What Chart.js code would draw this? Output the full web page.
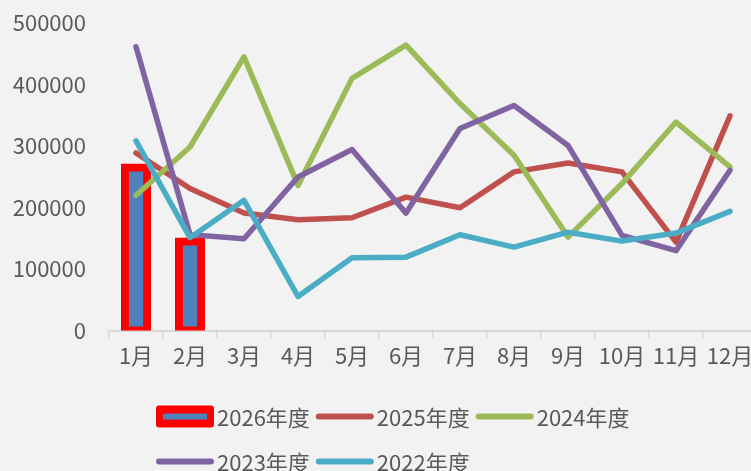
<!DOCTYPE html>
<html>
<head>
<meta charset="utf-8">
<script src="https://cdn.jsdelivr.net/npm/chart.js@4/dist/chart.umd.min.js"></script>
<style>
  html, body { margin: 0; padding: 0; background: #f2f2f2; overflow: hidden; }
  #wrap { width: 760px; height: 471px; }
</style>
</head>
<body>
<div id="wrap"><canvas id="chart" width="760" height="471"></canvas></div>
<script>
const months = ["1月", "2月", "3月", "4月", "5月", "6月", "7月", "8月", "9月", "10月", "11月", "12月"];
const sales2026 = [265000, 145000];
const sales2025 = [288800, 231000, 191000, 180300, 183500, 217000, 199800, 258000, 272500, 258000, 143800, 349000];
const sales2024 = [220000, 298500, 445000, 236000, 410000, 464000, 369000, 285000, 152000, 239000, 339000, 266000];
const sales2023 = [461400, 156000, 149300, 249700, 294300, 191000, 328500, 366000, 301000, 154700, 130000, 260600];
const sales2022 = [308300, 151000, 211700, 55400, 118400, 119400, 155800, 135700, 160000, 145500, 158500, 193800];
const yTicks = [0, 100000, 200000, 300000, 400000, 500000];

const FONT = '"Noto Sans CJK SC", "Liberation Sans", sans-serif';
const TEXT = "#595959";

function lineSet(label, data, color, order) {
  return {
    type: "line",
    label,
    data,
    borderColor: color,
    backgroundColor: color,
    borderWidth: 5.5,
    borderCapStyle: "round",
    borderJoinStyle: "round",
    pointRadius: 0,
    fill: false,
    order
  };
}

// legend laid out in two left-aligned rows under the axis
const legendRows = [[0, 1, 2], [3, 4]];
const rowLegend = {
  id: "rowLegend",
  afterDraw(chart) {
    const ctx = chart.ctx;
    const ds = chart.data.datasets;
    ctx.save();
    ctx.font = "22px " + FONT;
    ctx.textBaseline = "middle";
    legendRows.forEach((row, r) => {
      let x = 156;
      const y = chart.chartArea.bottom + 86 + r * 45;
      row.forEach(i => {
        const d = ds[i];
        if (d.type === "bar") {
          ctx.fillStyle = d.borderColor;
          ctx.beginPath();
          ctx.roundRect(x, y - 11, 58, 22, 3);
          ctx.fill();
          ctx.fillStyle = d.backgroundColor;
          ctx.fillRect(x + 7, y - 3, 44, 6);
        } else {
          ctx.strokeStyle = d.borderColor;
          ctx.lineWidth = 6;
          ctx.lineCap = "round";
          ctx.beginPath();
          ctx.moveTo(x + 3, y);
          ctx.lineTo(x + 55, y);
          ctx.stroke();
        }
        x += 61;
        ctx.fillStyle = TEXT;
        ctx.fillText(d.label, x, y + 1);
        x += ctx.measureText(d.label).width + 6;
      });
    });
    ctx.restore();
  }
};

new Chart(document.getElementById("chart"), {
  data: {
    labels: months,
    datasets: [
      {
        type: "bar",
        label: "2026年度",
        data: sales2026,
        backgroundColor: "#4f81bd",
        borderColor: "#ff0000",
        borderWidth: 8,
        borderSkipped: false,
        inflateAmount: 4,
        barPercentage: 0.41,
        categoryPercentage: 1,
        order: 5
      },
      lineSet("2025年度", sales2025, "#c0504d", 4),
      lineSet("2024年度", sales2024, "#9bbb59", 3),
      lineSet("2023年度", sales2023, "#8064a2", 2),
      lineSet("2022年度", sales2022, "#4bacc6", 1)
    ]
  },
  options: {
    responsive: false,
    animation: false,
    devicePixelRatio: 1,
    layout: { padding: { top: 23, right: 3, bottom: 98, left: 0 } },
    plugins: { legend: { display: false }, tooltip: { enabled: false } },
    scales: {
      x: {
        offset: true,
        grid: { display: true, drawOnChartArea: false, drawTicks: true, tickLength: 8, color: "#d9d9d9", lineWidth: 1.5, offset: true },
        border: { display: true, color: "#d9d9d9", width: 2 },
        ticks: { color: TEXT, font: { family: FONT, size: 22 }, padding: 4, maxRotation: 0, autoSkip: false }
      },
      y: {
        min: 0,
        max: 500000,
        afterBuildTicks: s => { s.ticks = yTicks.map(v => ({ value: v })); },
        afterFit: s => { s.width = 109; s.paddingTop = 0; s.paddingBottom = 0; },
        grid: { display: false, drawTicks: false },
        border: { display: false },
        ticks: { color: TEXT, font: { family: FONT, size: 22 }, padding: 23, callback: v => String(v) }
      }
    }
  },
  plugins: [rowLegend]
});
</script>
</body>
</html>
